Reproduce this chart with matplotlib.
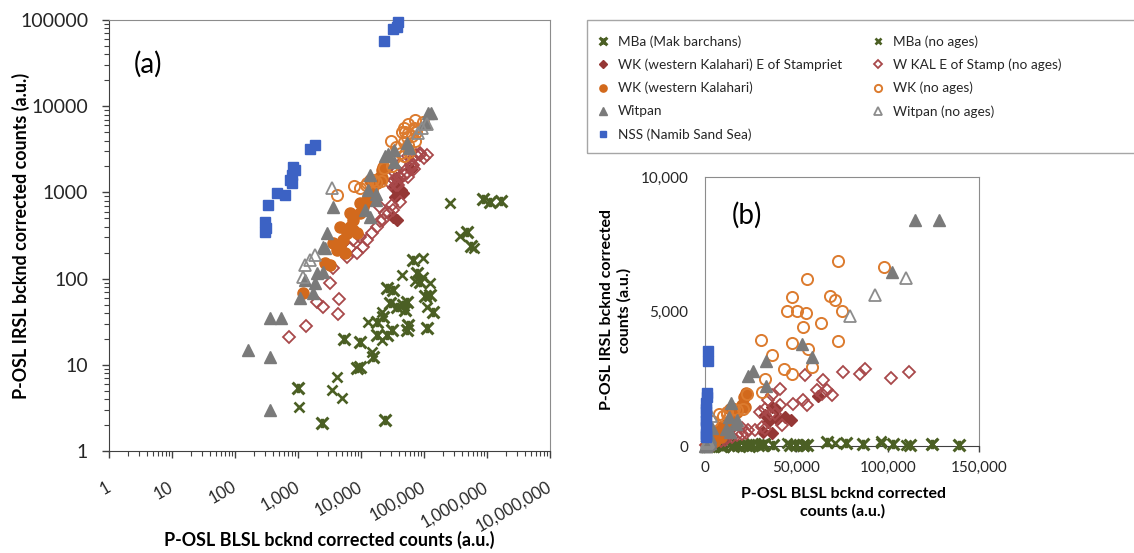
import numpy as np
import matplotlib
matplotlib.use("Agg")
import matplotlib.pyplot as plt
from matplotlib.path import Path
from matplotlib.patches import Rectangle
from matplotlib.ticker import FixedLocator, NullFormatter, LogLocator

plt.rcParams['font.family'] = ['Lato', 'DejaVu Sans']

# ---------------- data (BLSL counts x, IRSL counts y) ----------------
mba_x = [1000, 2400, 5370, 8650, 9640, 9640, 15500, 17900, 17900, 22300, 24000, 25900, 25900,
         28800, 31000, 32200, 37300, 46400, 49900, 53700, 53700, 55700, 66800, 77400, 86400,
         103000, 112000, 124000, 139000, 485000, 550000, 867000, 1120000, 1650000]
mba_y = [5.4, 2.1, 19.9, 9.2, 9.4, 18.4, 12.3, 31, 22, 36, 2.3, 78, 22,
         52, 25, 74, 47, 49, 43, 54, 25, 29, 164, 116, 91,
         63, 27, 64, 41, 344, 236, 845, 769, 805]

mba_na_x = [1040, 3470, 4160, 4990, 12900, 15000, 21500, 21500, 44700, 71000, 96400, 96400,
            110000, 124000, 255000, 375000, 625000]
mba_na_y = [3.2, 5.1, 7.2, 4.1, 31, 14.1, 19.4, 41, 110, 95, 173, 104,
            47, 89, 748, 313, 225]

wke_x = [31900, 36900, 39300, 43800, 47000, 34600, 32600, 38900, 36500, 62000]
wke_y = [521, 478, 1019, 1078, 976, 891, 1165, 1393, 1450, 1863]

wke_na_x = [728, 1340, 1980, 2520, 4530, 4365, 3220, 3630, 5240, 6690, 7550, 9640, 8520, 10900,
            12300, 14800, 17750, 5920, 13900, 15700, 20000, 12770,
            54740, 64760, 75710, 84850, 87590, 101650, 111860, 41060, 34650, 36500, 61150,
            63890, 66630, 69360, 48340, 53810, 55670, 41060, 30110, 32850, 35580, 38320,
            42000, 31040, 27370, 23710, 20090, 22600, 32600]
wke_na_y = [21.2, 28.2, 54, 47, 57.5, 38.8, 88, 132, 257, 225, 280, 306, 196, 234,
            280, 335, 400, 180, 816, 891, 683, 770,
            2629, 2443, 2752, 2692, 2878, 2529, 2740, 2134, 1700, 1885, 2071,
            1948, 2071, 1885, 1577, 1700, 1514, 1514, 1264, 1391, 1205, 1205,
            770, 707, 584, 584, 461, 478, 625]

wk_x = [1213, 2690, 3220, 3630, 4110, 4640, 5240, 5570, 5920, 6690, 7550, 4640, 7550, 8520,
        6690, 9640, 9640, 10900, 12300, 13900, 14800, 17750, 20000, 21300, 22600, 21900]
wk_y = [67.5, 150, 144, 257, 215, 235, 280, 196, 335, 400, 478, 400, 366, 335,
        572, 572, 747, 683, 816, 1393, 1066, 1275, 1520, 1820, 1986, 1450]

wk_na_x = [73000, 98000, 55660, 47450, 68440, 71180, 44710, 50190, 55300, 74830, 53470, 63330,
           30480, 36500, 47820, 56580, 73000, 58770, 43250, 47450, 32850, 31030, 22810,
           20990, 17350, 11880, 12300, 9640, 15700, 4100, 7800]
wk_na_y = [6893, 6645, 6210, 5552, 5589, 5428, 5005, 5030, 4931, 5030, 4409, 4571,
           3937, 3391, 3813, 3589, 3912, 2919, 2857, 2670, 2484, 2024, 1925,
           1366, 1328, 1205, 1275, 1116, 1393, 929, 1180]

wit_x = [163, 359, 359, 359, 531, 1076, 1750, 1862, 1292, 1980, 2523, 2523, 2690, 2853, 3630,
         11560, 13900, 17000, 13100, 17520, 14050, 23720, 26460, 33390, 33390, 52920, 58760,
         102190, 114964, 128285]
wit_y = [14.9, 12.4, 3.0, 34.6, 34.6, 59, 68, 88, 96, 115, 120, 234, 225, 335, 683,
         625, 523, 806, 1070, 955, 1590, 2609, 2770, 3143, 2236, 3789, 3317,
         6460, 8410, 8410]

wit_na_x = [3430, 1292, 1549, 1862, 1213, 79380, 93070, 109850]
wit_na_y = [1116, 144, 164, 188, 105, 4845, 5627, 6248]

nss_x = [299, 310, 299, 338, 459, 622, 746, 794, 794, 842, 896, 1550, 1862,
         23400, 32300, 36800, 39200]
nss_y = [457, 383, 350, 714, 976, 933, 1393, 1592, 1275, 1986, 1820, 3150, 3550,
         56700, 78900, 82800, 95400]

labels = ["MBa (Mak barchans)", "MBa (no ages)",
          "WK (western Kalahari) E of Stampriet", "W KAL E of Stamp (no ages)",
          "WK (western Kalahari)", "WK (no ages)",
          "Witpan", "Witpan (no ages)", "NSS (Namib Sand Sea)"]

a_xticks = [1, 10, 100, 1000, 10000, 100000, 1000000, 10000000]
a_xticklabels = ["1", "10", "100", "1,000", "10,000", "100,000", "1,000,000", "10,000,000"]
a_yticks = [1, 10, 100, 1000, 10000, 100000]
a_yticklabels = ["1", "10", "100", "1000", "10000", "100000"]
b_xticks = [0, 50000, 100000, 150000]
b_xticklabels = ["0", "50,000", "100,000", "150,000"]
b_yticks = [0, 5000, 10000]
b_yticklabels = ["0", "5,000", "10,000"]

# ---------------- styles ----------------
star = Path([(-1, -1), (1, 1), (-1, 1), (1, -1), (0, -0.8), (0, 0.8)],
            [Path.MOVETO, Path.LINETO, Path.MOVETO, Path.LINETO, Path.MOVETO, Path.LINETO])
GREEN = '#4b5f24'
DRED = '#953735'
ORED = '#a8484a'
ORANGE = '#d2691c'
ORANGE2 = '#dc7b2e'
GRAY = '#7a7a7a'
GRAY2 = '#8c8c8c'
BLUE = '#3c62c4'

series = [
    (mba_x, mba_y, dict(marker=star, ms=8.5, mec=GREEN, mfc=GREEN, mew=2.2)),
    (mba_na_x, mba_na_y, dict(marker='x', ms=7.5, mec=GREEN, mew=1.9)),
    (wke_x, wke_y, dict(marker='D', ms=6.5, mec=DRED, mfc=DRED, mew=1)),
    (wke_na_x, wke_na_y, dict(marker='D', ms=6.5, mec=ORED, mfc='none', mew=1.3)),
    (wk_x, wk_y, dict(marker='o', ms=8, mec=ORANGE, mfc=ORANGE, mew=1)),
    (wk_na_x, wk_na_y, dict(marker='o', ms=8, mec=ORANGE2, mfc='none', mew=1.4)),
    (wit_x, wit_y, dict(marker='^', ms=9, mec=GRAY, mfc=GRAY, mew=1)),
    (wit_na_x, wit_na_y, dict(marker='^', ms=9, mec=GRAY2, mfc='none', mew=1.3)),
    (nss_x, nss_y, dict(marker='s', ms=7.5, mec=BLUE, mfc=BLUE, mew=1)),
]

W, H = 1134, 553
fig = plt.figure(figsize=(W / 100, H / 100), dpi=100)


def px_axes(l, r, t, b):
    return fig.add_axes([l / W, 1 - b / H, (r - l) / W, (b - t) / H])


axa = px_axes(109, 550, 20, 451)
axb = px_axes(705, 979, 177, 446)

handles = []
for x, y, st in series:
    h, = axa.plot(x, y, ls='none', clip_on=False, zorder=3, **st)
    handles.append(h)
    xa, ya = np.asarray(x, float), np.asarray(y, float)
    m = (xa <= 150000) & (ya <= 10000)
    axb.plot(xa[m], ya[m], ls='none', clip_on=False, zorder=3, **st)

# ---------------- panel (a) ----------------
axa.set_xscale('log')
axa.set_yscale('log')
axa.set_xlim(1, 1e7)
axa.set_ylim(1, 1e5)
axa.xaxis.set_major_locator(FixedLocator(a_xticks))
axa.yaxis.set_major_locator(FixedLocator(a_yticks))
axa.xaxis.set_minor_locator(LogLocator(base=10, subs=np.arange(2, 10)))
axa.yaxis.set_minor_locator(LogLocator(base=10, subs=np.arange(2, 10)))
axa.xaxis.set_minor_formatter(NullFormatter())
axa.yaxis.set_minor_formatter(NullFormatter())
axa.set_xticklabels(a_xticklabels, rotation=30, ha='right', va='center',
                    rotation_mode='anchor', fontsize=12, color='#262626')
axa.set_yticklabels(a_yticklabels, fontsize=14, color='#262626')
axa.tick_params(axis='x', which='major', length=5, width=1, color='#404040', pad=20)
axa.tick_params(axis='y', which='major', length=5, width=1, color='#404040', pad=10)
axa.tick_params(which='minor', length=3.5, width=0.8, color='#404040')
for s in ['left', 'bottom']:
    axa.spines[s].set_color('#404040')
for s in ['top', 'right']:
    axa.spines[s].set_color('#8c8c8c')
axa.set_xlabel("P-OSL BLSL bcknd corrected counts (a.u.)", fontsize=12.9, fontweight='bold')
axa.set_ylabel("P-OSL IRSL bcknd corrected counts (a.u.)", fontsize=12.9, fontweight='bold')
axa.xaxis.set_label_coords(0.5, (451 - 540) / 431)
axa.xaxis.label.set_va('center')
axa.yaxis.set_label_coords((21 - 109) / 441, 0.5)
axa.yaxis.label.set_va('center')
axa.text((148 - 109) / 441, (451 - 64.5) / 431, "(a)", transform=axa.transAxes,
         fontsize=20, ha='center', va='center')

# ---------------- panel (b) ----------------
axb.set_xlim(0, 150000)
axb.set_ylim(0, 10000)
axb.set_xticks(b_xticks)
axb.set_xticklabels(b_xticklabels, fontsize=11, color='#262626')
axb.set_yticks(b_yticks)
axb.set_yticklabels(b_yticklabels, fontsize=11, color='#262626')
axb.tick_params(axis='x', length=4, width=1, color='#404040', pad=7)
axb.tick_params(axis='y', length=0, pad=12)
axb.spines['bottom'].set_color('#404040')
for s in ['top', 'right', 'left']:
    axb.spines[s].set_color('#8c8c8c')
axb.set_xlabel("P-OSL BLSL bcknd corrected\ncounts (a.u.)", fontsize=11.5,
               fontweight='bold', linespacing=1.3)
axb.set_ylabel("P-OSL IRSL bcknd corrected\ncounts (a.u.)", fontsize=11.5,
               fontweight='bold', linespacing=1.3)
axb.xaxis.set_label_coords((843 - 705) / 274, (446 - 503) / 269)
axb.xaxis.label.set_va('center')
axb.yaxis.set_label_coords((616 - 705) / 274, (446 - 310) / 269)
axb.yaxis.label.set_va('center')
axb.text((747 - 705) / 274, (446 - 215) / 269, "(b)", transform=axb.transAxes,
         fontsize=20, ha='center', va='center')

# ---------------- legend ----------------
col1 = [0, 2, 4, 6, 8]
col2 = [1, 3, 5, 7]
leg_kw = dict(loc='upper left', frameon=False, fontsize=9.8, handlelength=1.15,
              handletextpad=0.55, labelspacing=0.8, borderpad=0, borderaxespad=0,
              markerscale=0.65, labelcolor='#262626')
fig.legend([handles[i] for i in col1], [labels[i] for i in col1],
           bbox_to_anchor=(595 / W, 1 - 35 / H), **leg_kw)
fig.legend([handles[i] for i in col2], [labels[i] for i in col2],
           bbox_to_anchor=(870 / W, 1 - 35 / H), **leg_kw)
fig.add_artist(Rectangle((587 / W, 1 - 153 / H), (1150 - 587) / W, 133 / H,
                         transform=fig.transFigure, fill=False, edgecolor='#a6a6a6', lw=1))

fig.savefig("out.png", dpi=100)
